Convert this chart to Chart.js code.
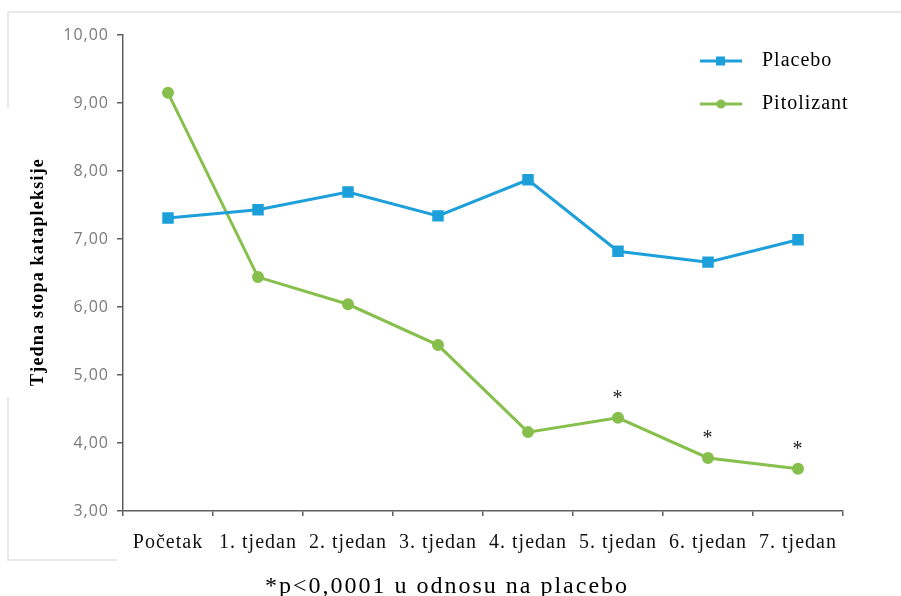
<!DOCTYPE html>
<html>
<head>
<meta charset="utf-8">
<script src="https://cdn.jsdelivr.net/npm/chart.js@4/dist/chart.umd.min.js"></script>
<style>
    body { margin: 0; background: #fff; }
    #wrap { width: 901px; height: 596px; }
</style>
</head>
<body>
<div id="wrap"><canvas id="cataplexyChart" width="901" height="596"></canvas></div>
<script>
const weeks = ['Početak', '1. tjedan', '2. tjedan', '3. tjedan', '4. tjedan', '5. tjedan', '6. tjedan', '7. tjedan'];
const placebo = [7.31, 7.43, 7.69, 7.34, 7.87, 6.82, 6.66, 6.99];
const pitolizant = [9.15, 6.44, 6.04, 5.44, 4.16, 4.37, 3.78, 3.62];
// weeks where pitolizant differs from placebo at p<0.0001
const significant = [false, false, false, false, false, true, true, true];
const yTicks = [3, 4, 5, 6, 7, 8, 9, 10];

const yTitle = 'Tjedna stopa katapleksije';
const footnote = '*p<0,0001 u odnosu na placebo';

const BLUE = '#1d9fda';
const GREEN = '#86bf4b';
const AXIS = '#5f5f5f';
const SERIF = '"Liberation Serif", "Times New Roman", serif';

const extras = {
    id: 'extras',
    beforeDraw(chart) {
        const ctx = chart.ctx;
        // faint frame around the figure
        ctx.save();
        ctx.strokeStyle = '#e2e2e2';
        ctx.lineWidth = 1.5;
        ctx.beginPath();
        ctx.moveTo(901, 12); ctx.lineTo(8, 12); ctx.lineTo(8, 108);
        ctx.moveTo(8, 397); ctx.lineTo(8, 560); ctx.lineTo(117, 560);
        ctx.stroke();
        ctx.restore();
        ctx.letterSpacing = '1px';
    },
    afterDatasetsDraw(chart) {
        const ctx = chart.ctx;
        const meta = chart.getDatasetMeta(1);
        ctx.save();
        ctx.fillStyle = '#222';
        ctx.font = '20px ' + SERIF;
        ctx.textAlign = 'center';
        ctx.textBaseline = 'alphabetic';
        significant.forEach((sig, i) => {
            if (!sig) return;
            const pt = meta.data[i];
            ctx.fillText('*', pt.x, pt.y - 14);
        });
        ctx.restore();
    },
    afterDraw(chart) {
        const ctx = chart.ctx;
        const area = chart.chartArea;
        ctx.save();

        // y axis title
        ctx.fillStyle = '#000';
        ctx.font = 'bold 18px ' + SERIF;
        ctx.letterSpacing = '1.2px';
        ctx.textAlign = 'center';
        ctx.textBaseline = 'alphabetic';
        ctx.translate(43, 272);
        ctx.rotate(-Math.PI / 2);
        ctx.fillText(yTitle, 0, 0);
        ctx.setTransform(1, 0, 0, 1, 0, 0);

        // legend
        ctx.font = '20px ' + SERIF;
        ctx.letterSpacing = '1px';
        ctx.textAlign = 'left';
        chart.data.datasets.forEach((ds, i) => {
            const y = 61 + i * 43;
            ctx.strokeStyle = ds.borderColor;
            ctx.lineWidth = 3;
            ctx.beginPath();
            ctx.moveTo(700, y);
            ctx.lineTo(742, y);
            ctx.stroke();
            ctx.fillStyle = ds.borderColor;
            if (ds.pointStyle === 'rect') {
                ctx.fillRect(716, y - 4.5, 9, 9);
            } else {
                ctx.beginPath();
                ctx.arc(721, y, 4.5, 0, Math.PI * 2);
                ctx.fill();
            }
            ctx.fillStyle = '#000';
            ctx.fillText(ds.label, 762, y + 5);
        });

        // footnote
        ctx.font = '24px ' + SERIF;
        ctx.letterSpacing = '2px';
        ctx.textAlign = 'center';
        ctx.fillText(footnote, (area.left + area.right) / 2 - 36, 593);
        ctx.restore();
    }
};

new Chart(document.getElementById('cataplexyChart'), {
    type: 'line',
    data: {
        labels: weeks,
        datasets: [{
            label: 'Placebo',
            data: placebo,
            borderColor: BLUE,
            backgroundColor: BLUE,
            borderWidth: 3,
            pointStyle: 'rect',
            pointRadius: 6,
            tension: 0,
        },
        {
            label: 'Pitolizant',
            data: pitolizant,
            borderColor: GREEN,
            backgroundColor: GREEN,
            borderWidth: 3,
            pointStyle: 'circle',
            pointRadius: 4.5,
            tension: 0,
        }]
    },
    options: {
        responsive: false,
        animation: false,
        layout: { padding: { left: 0, top: 35, right: 58, bottom: 0 } },
        plugins: {
            legend: { display: false },
            tooltip: { enabled: false },
        },
        scales: {
            x: {
                offset: true,
                grid: {
                    offset: true,
                    drawOnChartArea: false,
                    color: AXIS,
                    lineWidth: 1.5,
                    tickLength: 5,
                },
                border: { color: AXIS, width: 1.5 },
                ticks: {
                    color: '#111',
                    font: { family: SERIF, size: 20 },
                    padding: 15,
                    maxRotation: 0,
                    autoSkip: false,
                },
                afterFit(scale) { scale.height = 85; },
            },
            y: {
                min: 3,
                max: 10,
                afterBuildTicks(scale) {
                    scale.ticks = yTicks.map(v => ({ value: v }));
                },
                grid: {
                    drawOnChartArea: false,
                    color: AXIS,
                    lineWidth: 1.5,
                    tickLength: 6,
                },
                border: { color: AXIS, width: 1.5 },
                ticks: {
                    color: '#7a7a7a',
                    font: { family: '"Open Sans", sans-serif', size: 16 },
                    padding: 8,
                    callback: v => v.toFixed(2).replace('.', ','),
                },
                afterFit(scale) { scale.width = 123; },
            }
        }
    },
    plugins: [extras]
});
</script>
</body>
</html>
